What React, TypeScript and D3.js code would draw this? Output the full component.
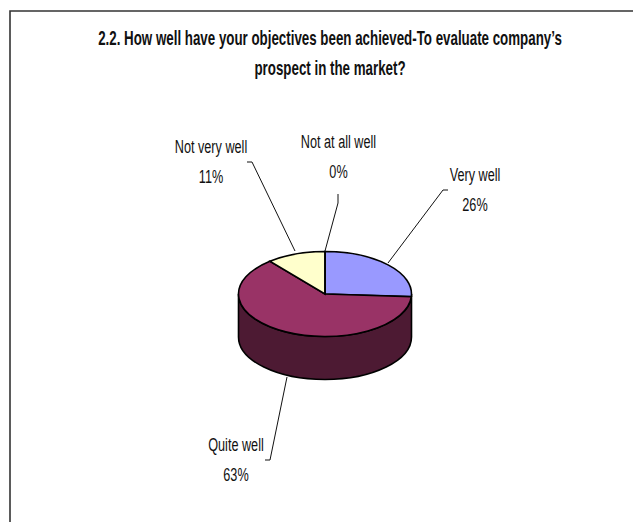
import React from "react";
import * as d3 from "d3";

const categories = ["Very well", "Quite well", "Not very well", "Not at all well"];
const values = [26, 63, 11, 0];
const colors = ["#9999ff", "#993366", "#ffffcc", "#ffffff"];
const sideColor = "#4d1a33";
const titleLines = [
  "2.2. How well have your objectives been achieved-To evaluate company’s",
  "prospect in the market?",
];
const labelAnchors: [number, number][] = [[475, 181], [236, 451], [211, 153], [338.5, 148]];
const leaderLines: [number, number][][] = [
  [[388, 263], [443, 190], [448, 190]],
  [[287, 377], [270, 460], [265, 460]],
  [[295, 251], [252, 162], [247, 162]],
  [[325, 251], [338, 203], [338, 194]],
];

const cx = 325, cy = 294, rx = 86.5, ry = 42.5, depth = 43;
const font = "'Liberation Sans',Arial,sans-serif";
const sx = 0.667;

export default function App() {
  const pie = d3.pie<number>().sort(null)(values);
  const arc = d3.arc<d3.PieArcDatum<number>>().innerRadius(0).outerRadius(rx);
  const line = d3.line();
  const wall = `M${cx - rx},${cy} L${cx - rx},${cy + depth} A${rx},${ry} 0 0 0 ${cx + rx},${cy + depth} L${cx + rx},${cy} A${rx},${ry} 0 0 1 ${cx - rx},${cy} Z`;
  return (
    <svg width={633} height={522} style={{ position: "absolute", left: 0, top: 0, background: "#fff" }} fontFamily={font}>
      <path d="M633,11 H10 V522" fill="none" stroke="#333" strokeWidth={1.6} />
      <g fontWeight="bold" fontSize={20} textAnchor="middle" fill="#111">
        {titleLines.map((t, i) => (
          <text key={i} transform={`translate(330,${44.5 + i * 30.5}) scale(${sx},1)`}>{t}</text>
        ))}
      </g>
      {leaderLines.map((p, i) => (
        <path key={i} d={line(p) ?? ""} fill="none" stroke="#111" strokeWidth={1} />
      ))}
      <path d={wall} fill={sideColor} stroke="#000" strokeWidth={1.6} />
      {pie.map((d, i) => (
        <path
          key={i}
          d={arc(d) ?? ""}
          transform={`translate(${cx},${cy}) scale(1,${ry / rx})`}
          fill={colors[i]}
          stroke="#000"
          strokeWidth={1.6}
          vectorEffect="non-scaling-stroke"
        />
      ))}
      <g fontSize={19} textAnchor="middle" fill="#111">
        {categories.map((c, i) => (
          <g key={c} transform={`translate(${labelAnchors[i][0]},${labelAnchors[i][1]}) scale(${sx},1)`}>
            <text>{c}</text>
            <text y={30.5}>{values[i]}%</text>
          </g>
        ))}
      </g>
    </svg>
  );
}
